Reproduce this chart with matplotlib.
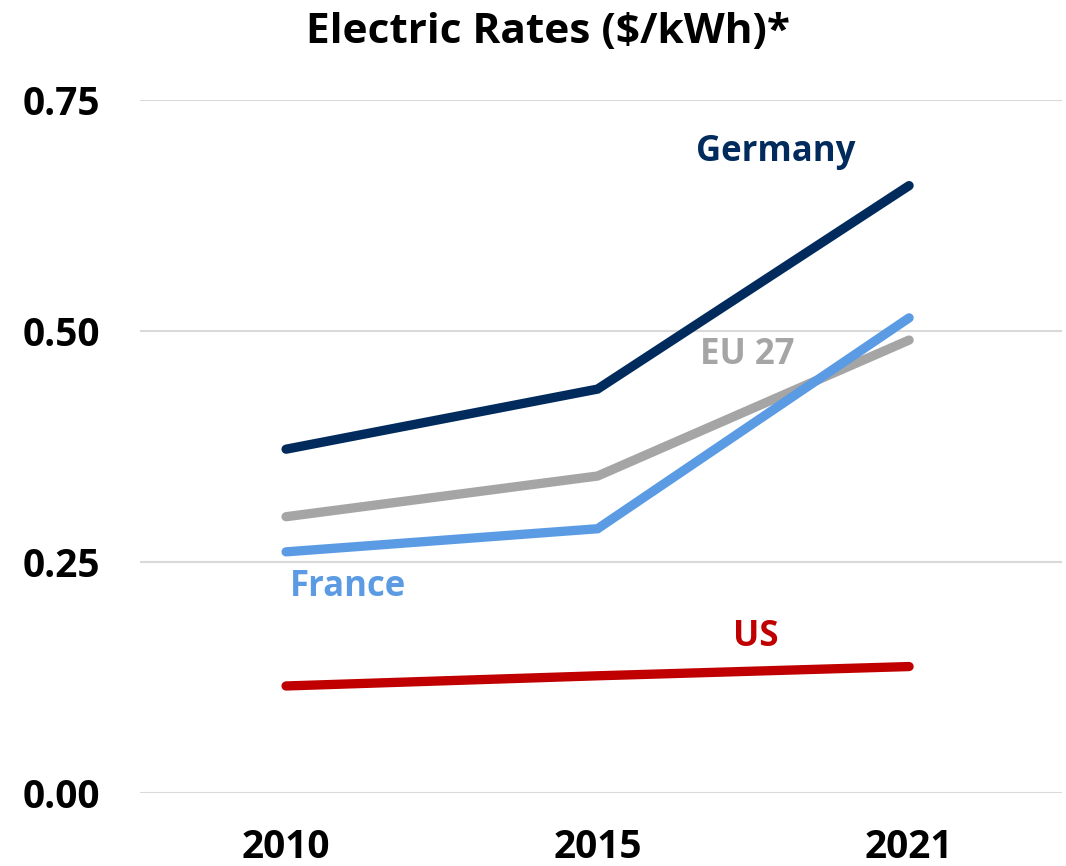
import matplotlib
matplotlib.use("Agg")
import matplotlib.pyplot as plt

years = ["2010", "2015", "2021"]
germany = [0.372, 0.437, 0.657]
eu27 = [0.299, 0.343, 0.490]
france = [0.261, 0.286, 0.514]
us = [0.116, 0.127, 0.137]
yticks = [0.00, 0.25, 0.50, 0.75]
ytick_labels = ["0.00", "0.25", "0.50", "0.75"]

plt.rcParams['font.family'] = ['Open Sans', 'DejaVu Sans']

fig = plt.figure(figsize=(10.66, 8.66), dpi=100)
ax = fig.add_axes([0.131, 0.084, 0.865, 0.801])

x = list(range(len(years)))
series = [
    (eu27, "#A5A5A5", "EU 27", (1.479, 0.474)),
    (france, "#5B9BE3", "France", (0.2, 0.223)),
    (germany, "#002B5C", "Germany", (1.572, 0.693)),
    (us, "#C00000", "US", (1.508, 0.169)),
]
for vals, color, name, pos in series:
    ax.plot(x, vals, color=color, lw=6.7, solid_capstyle='round', solid_joinstyle='miter', zorder=3)
    ax.text(pos[0], pos[1], name, color=color, fontsize=25, fontweight='bold',
            ha='center', va='center', zorder=4)

ax.set_xlim(-0.47, 2.49)
ax.set_ylim(0, 0.75)
ax.set_yticks(yticks)
ax.set_yticklabels(ytick_labels)
ax.set_xticks(x)
ax.set_xticklabels(years)
ax.yaxis.grid(True, color="#D9D9D9", lw=1.5, zorder=0)
ax.set_axisbelow(True)
for s in ax.spines.values():
    s.set_visible(False)
ax.tick_params(axis='both', length=0, labelsize=28)
ax.tick_params(axis='y', pad=28.5)
ax.tick_params(axis='x', pad=25)
for lbl in ax.get_xticklabels() + ax.get_yticklabels():
    lbl.set_fontweight('bold')

fig.text(0.514, 0.963, "Electric Rates ($/kWh)*", ha='center', va='center',
         fontsize=30.5, fontweight='bold')

fig.savefig("out.png", dpi=100)
